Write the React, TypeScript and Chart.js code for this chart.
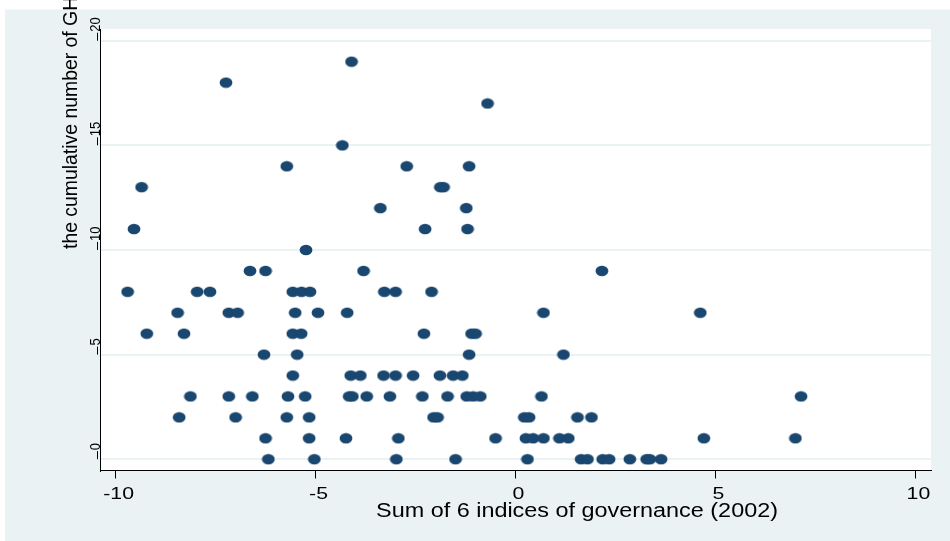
import React, { useEffect, useRef } from "react";
import { Chart, registerables } from "chart.js";

Chart.register(...registerables);

// Tick values
const xTicks = [-10, -5, 0, 5, 10];
const yTicks = [0, 5, 10, 15, 20];

// Sum of 6 indices of governance (2002) — x values
const governanceSum = [
  -4.1, -7.24, -0.7, -4.33,
  -5.72, -2.72, -1.16,
  -9.35, -1.88, -1.8,
  -3.38, -1.23,
  -9.54, -2.26, -1.2,
  -5.24,
  -6.64, -6.25, -3.8, 2.16,
  -9.7, -7.96, -7.64, -5.57, -5.35, -5.14, -3.28, -3.0, -2.1,
  -8.45, -7.17, -6.95, -5.51, -4.94, -4.21, 0.7, 4.62,
  -9.22, -8.29, -5.57, -5.36, -2.29, -1.1, -1.0,
  -6.29, -5.46, -1.16, 1.2,
  -5.57, -4.12, -3.88, -3.3, -3.0, -2.56, -1.89, -1.56, -1.33,
  -8.13, -7.17, -6.58, -5.69, -5.26, -4.16, -4.08, -3.72, -3.14, -2.33, -1.7, -1.22, -1.06, -0.88, 0.65, 7.14,
  -8.41, -7.0, -5.72, -5.16, -2.05, -1.95, 0.22, 0.34, 1.55, 1.9,
  -6.25, -5.16, -4.24, -2.93, -0.5, 0.26, 0.44, 0.7, 1.1, 1.32, 4.71, 7.0,
  -6.18, -5.03, -2.98, -1.5, 0.3, 1.64, 1.8, 2.18, 2.34, 2.86, 3.28, 3.36, 3.64,
];

// the cumulative number — y values
const cumulativeCount = [
  19, 18, 17, 15,
  14, 14, 14,
  13, 13, 13,
  12, 12,
  11, 11, 11,
  10,
  9, 9, 9, 9,
  8, 8, 8, 8, 8, 8, 8, 8, 8,
  7, 7, 7, 7, 7, 7, 7, 7,
  6, 6, 6, 6, 6, 6, 6,
  5, 5, 5, 5,
  4, 4, 4, 4, 4, 4, 4, 4, 4,
  3, 3, 3, 3, 3, 3, 3, 3, 3, 3, 3, 3, 3, 3, 3, 3,
  2, 2, 2, 2, 2, 2, 2, 2, 2, 2,
  1, 1, 1, 1, 1, 1, 1, 1, 1, 1, 1, 1,
  0, 0, 0, 0, 0, 0, 0, 0, 0, 0, 0, 0, 0,
];

const xTitle = "Sum of 6 indices of governance (2002)";
const yTitle = "the cumulative number of GH";

const FONT = '"Liberation Sans", Arial, Helvetica, sans-serif';
const BG = "#EAF2F3";
const MARKER = "#1A476F";

function makeMarker(): HTMLCanvasElement {
  const c = document.createElement("canvas");
  c.width = 14;
  c.height = 12;
  const g = c.getContext("2d")!;
  g.fillStyle = MARKER;
  g.beginPath();
  g.ellipse(7, 6, 6.4, 5.3, 0, 0, Math.PI * 2);
  g.fill();
  return c;
}

const backgroundPlugin = {
  id: "stataBackground",
  beforeDraw(chart: any) {
    const { ctx, width, height, chartArea } = chart;
    ctx.save();
    ctx.fillStyle = "#FFFFFF";
    ctx.fillRect(0, 0, width, height);
    ctx.fillStyle = BG;
    ctx.fillRect(5, 9.5, width - 5, height - 9.5);
    ctx.fillStyle = "#FFFFFF";
    ctx.fillRect(
      chartArea.left,
      chartArea.top,
      chartArea.right - chartArea.left,
      chartArea.bottom - chartArea.top
    );
    ctx.restore();
  },
};

const textPlugin = {
  id: "stataText",
  afterDraw(chart: any) {
    const { ctx, chartArea } = chart;
    const xs = chart.scales.x;
    const ys = chart.scales.y;
    ctx.save();
    ctx.fillStyle = "#000000";
    ctx.strokeStyle = "#000000";
    ctx.lineWidth = 1;

    // x tick labels
    ctx.font = `17px ${FONT}`;
    ctx.textAlign = "center";
    ctx.textBaseline = "alphabetic";
    xTicks.forEach((v) => {
      const px = xs.getPixelForValue(v) + 3;
      ctx.save();
      ctx.translate(px, 498.5);
      ctx.scale(1.25, 1);
      ctx.fillText(String(v), 0, 0);
      ctx.restore();
    });

    // y tick labels (rotated) and their marks
    ctx.font = `13px ${FONT}`;
    ctx.textAlign = "left";
    yTicks.forEach((v) => {
      const py = ys.getPixelForValue(v);
      ctx.save();
      ctx.translate(chartArea.left - 0.5, py - 9);
      ctx.scale(1.15, 1);
      ctx.rotate(-Math.PI / 2);
      ctx.fillText(String(v), 0, 0);
      ctx.restore();
      ctx.beginPath();
      ctx.moveTo(chartArea.left - 2.5, py - 8);
      ctx.lineTo(chartArea.left - 2.5, py);
      ctx.stroke();
    });

    // y title
    ctx.font = `19.4px ${FONT}`;
    ctx.textAlign = "left";
    ctx.save();
    ctx.translate(77, 249);
    ctx.rotate(-Math.PI / 2);
    ctx.fillText(yTitle, 0, 0);
    ctx.restore();

    // x title
    ctx.font = `19.5px ${FONT}`;
    ctx.textAlign = "center";
    ctx.save();
    ctx.translate(577, 517);
    ctx.scale(1.2, 1);
    ctx.fillText(xTitle, 0, 0);
    ctx.restore();

    ctx.restore();
  },
};

export default function App() {
  const ref = useRef<HTMLCanvasElement | null>(null);

  useEffect(() => {
    document.body.style.margin = "0";
    const canvas = ref.current;
    if (!canvas) return;
    const points = governanceSum.map((x, i) => ({ x, y: cumulativeCount[i] }));
    const marker = makeMarker();

    const chart = new Chart(canvas, {
      type: "scatter",
      data: {
        datasets: [
          {
            data: points,
            pointStyle: marker as any,
            pointRadius: 6,
            pointHoverRadius: 6,
            backgroundColor: MARKER,
            borderWidth: 0,
          },
        ],
      },
      options: {
        responsive: false,
        animation: false,
        events: [],
        layout: { padding: { left: 100, right: 19, top: 29, bottom: 70.5 } },
        plugins: {
          legend: { display: false },
          tooltip: { enabled: false },
          title: { display: false },
        },
        scales: {
          x: {
            type: "linear",
            min: -10.39,
            max: 10.39,
            afterBuildTicks: (s: any) => {
              s.ticks = xTicks.map((value) => ({ value }));
            },
            afterFit: (s: any) => {
              s.height = 0;
            },
            ticks: { display: false },
            grid: {
              drawOnChartArea: false,
              drawTicks: true,
              tickLength: 8,
              color: "#000000",
              lineWidth: 1,
            },
            border: { display: true, color: "#000000", width: 1 },
          },
          y: {
            type: "linear",
            min: -0.54,
            max: 20.56,
            afterBuildTicks: (s: any) => {
              s.ticks = yTicks.map((value) => ({ value }));
            },
            afterFit: (s: any) => {
              s.width = 0;
            },
            ticks: { display: false },
            grid: {
              drawOnChartArea: true,
              drawTicks: false,
              color: BG,
              lineWidth: 2,
            },
            border: { display: true, color: "#000000", width: 1 },
          },
        },
      },
      plugins: [backgroundPlugin, textPlugin],
    });

    return () => {
      chart.destroy();
    };
  }, []);

  return (
    <canvas
      ref={ref}
      width={950}
      height={541}
      style={{ display: "block", width: "950px", height: "541px" }}
    />
  );
}
